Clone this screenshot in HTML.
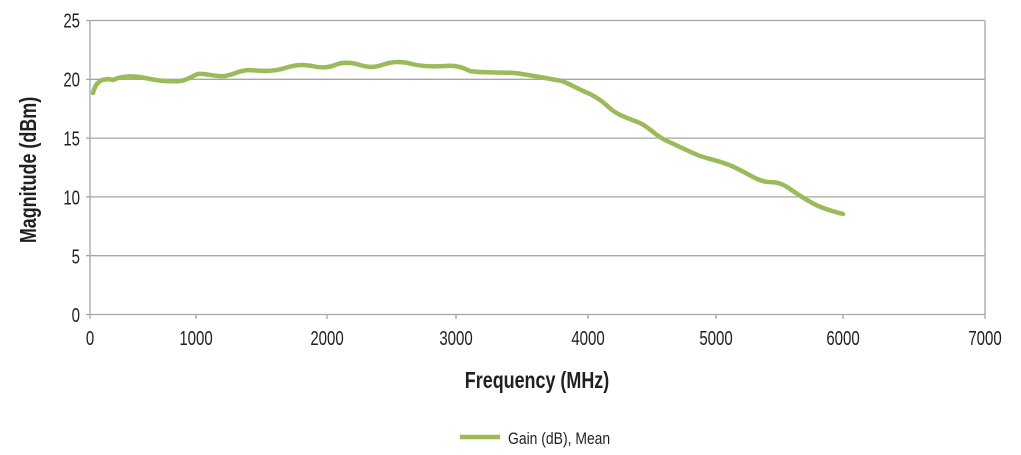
<!DOCTYPE html>
<html><head><meta charset="utf-8"><style>
html,body{margin:0;padding:0;background:#fff;width:1021px;height:455px;overflow:hidden}
svg text{font-family:"Liberation Sans",sans-serif;fill:#231f20}
</style></head><body>
<svg width="1021" height="455" viewBox="0 0 1021 455" xmlns="http://www.w3.org/2000/svg">
<g stroke="#a6a6a6" stroke-width="1.3" fill="none">
<line x1="90" y1="20.5" x2="985" y2="20.5"/>
<line x1="90" y1="79.3" x2="985" y2="79.3"/>
<line x1="90" y1="138.1" x2="985" y2="138.1"/>
<line x1="90" y1="196.9" x2="985" y2="196.9"/>
<line x1="90" y1="255.7" x2="985" y2="255.7"/>
<line x1="86" y1="314.5" x2="985" y2="314.5"/>
<line x1="90" y1="20.5" x2="90" y2="319"/>
<line x1="985" y1="20.5" x2="985" y2="319"/>
<line x1="86" y1="20.5" x2="90" y2="20.5"/>
<line x1="86" y1="79.3" x2="90" y2="79.3"/>
<line x1="86" y1="138.1" x2="90" y2="138.1"/>
<line x1="86" y1="196.9" x2="90" y2="196.9"/>
<line x1="86" y1="255.7" x2="90" y2="255.7"/>
<line x1="196" y1="314.5" x2="196" y2="319"/>
<line x1="327" y1="314.5" x2="327" y2="319"/>
<line x1="456" y1="314.5" x2="456" y2="319"/>
<line x1="588" y1="314.5" x2="588" y2="319"/>
<line x1="716" y1="314.5" x2="716" y2="319"/>
<line x1="843" y1="314.5" x2="843" y2="319"/>
</g>
<g font-size="20" text-anchor="end">
<text transform="translate(80 27.5) scale(0.75 1)">25</text>
<text transform="translate(80 86.5) scale(0.75 1)">20</text>
<text transform="translate(80 145.5) scale(0.75 1)">15</text>
<text transform="translate(80 204.5) scale(0.75 1)">10</text>
<text transform="translate(80 263.5) scale(0.75 1)">5</text>
<text transform="translate(80 322) scale(0.75 1)">0</text>
</g>
<g font-size="20" text-anchor="middle">
<text transform="translate(90 345) scale(0.75 1)">0</text>
<text transform="translate(196 345) scale(0.75 1)">1000</text>
<text transform="translate(327 345) scale(0.75 1)">2000</text>
<text transform="translate(456 345) scale(0.75 1)">3000</text>
<text transform="translate(588 345) scale(0.75 1)">4000</text>
<text transform="translate(716 345) scale(0.75 1)">5000</text>
<text transform="translate(843 345) scale(0.75 1)">6000</text>
<text transform="translate(985 345) scale(0.75 1)">7000</text>
</g>
<text transform="translate(537 388) scale(0.78 1)" font-size="23" font-weight="bold" text-anchor="middle">Frequency (MHz)</text>
<text transform="translate(36 170) rotate(-90) scale(0.78 1)" font-size="23" font-weight="bold" text-anchor="middle">Magnitude (dBm)</text>
<path fill="none" stroke="#9bbb59" stroke-width="4.5" stroke-linecap="round" stroke-linejoin="round"
d="M93,93 C95,85 98,82 102,80 L108,79 L113,80 L118,78 C125,76 135,76 145,78 C155,80 165,82 180,81 C188,80 192,76 198,74 C206,73 215,77 225,76 C235,74 240,70 250,70 C262,71 272,72 285,68 C295,65 302,64 312,66 C320,68 328,68 335,65 C342,62 350,62 360,65 C367,67 373,68 382,65 C390,62 398,61 408,63 C418,66 430,67 445,66 C455,65 462,67 470,71 C480,73 500,72 515,73 C530,75 545,78 562,81 C572,85 580,90 590,94 C600,99 605,104 612,110 C620,116 630,119 640,123 C650,128 655,135 665,140 C678,146 690,152 700,156 C712,160 725,162 740,170 C750,175 758,181 768,182 C778,182 783,184 790,189 C800,196 808,201 818,206 C828,210 835,212 843,214"/>
<line x1="460" y1="437" x2="500" y2="437" stroke="#9bbb59" stroke-width="4.5"/>
<text transform="translate(508 444) scale(0.82 1)" font-size="17">Gain (dB), Mean</text>
</svg>
</body></html>
